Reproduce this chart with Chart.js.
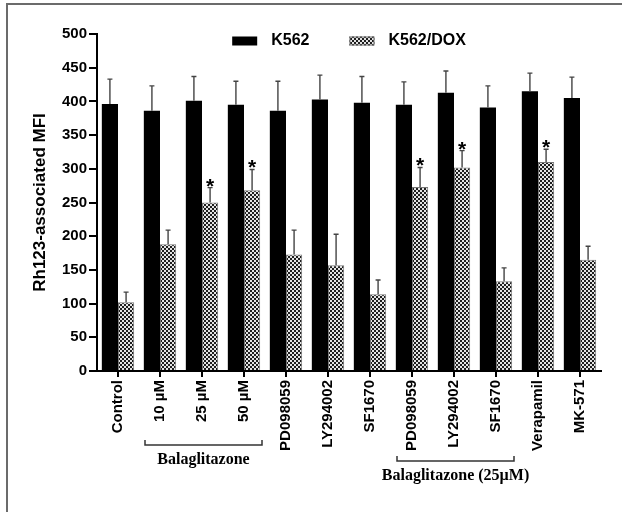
<!DOCTYPE html>
<html>
<head>
<meta charset="utf-8">
<script src="https://cdn.jsdelivr.net/npm/chart.js@4.4.0/dist/chart.umd.min.js"></script>
<style>
body { margin: 0; background: #fff; }
#frame { position: absolute; left: 6px; top: 3px; width: 700px; height: 600px; border-left: 2px solid #6b6b6b; border-top: 2px solid #6b6b6b; }
#c { position: absolute; left: 0; top: 0; }
</style>
</head>
<body>
<div id="frame"></div>
<canvas id="c" width="622" height="512"></canvas>
<script>
// data
const categories = ['Control', '10 µM', '25 µM', '50 µM', 'PD098059', 'LY294002', 'SF1670', 'PD098059', 'LY294002', 'SF1670', 'Verapamil', 'MK-571']
const k562 = [396, 386, 401, 395, 386, 403, 398, 395, 413, 391, 415, 405]
const k562Err = [433, 423, 437, 430, 430, 439, 437, 429, 445, 423, 442, 436]
const dox = [102, 188, 250, 268, 173, 157, 114, 273, 302, 133, 310, 165]
const doxErr = [117, 209, 272, 299, 209, 203, 135, 302, 327, 153, 329, 185]
const doxStars = [2, 3, 7, 8, 10]
const groupNames = ['Balaglitazone', 'Balaglitazone (25µM)']
const groupFrom = [1, 7]
const groupTo = [3, 9]
const seriesNames = ['K562', 'K562/DOX']
const yMax = 500
const yStep = 50

Chart.defaults.font.family = "'Liberation Sans', Arial, sans-serif"
Chart.defaults.color = '#000'

// checker fill for the DOX bars
function makePattern() {
	const t = document.createElement('canvas')
	t.width = 4
	t.height = 4
	const c = t.getContext('2d')
	c.fillStyle = '#e4e4e4'
	c.fillRect(0, 0, 4, 4)
	c.fillStyle = '#1e1e1e'
	c.fillRect(0, 0, 2, 2)
	c.fillRect(2, 2, 2, 2)
	return document.getElementById('c').getContext('2d').createPattern(t, 'repeat')
}
const checker = makePattern()

const extras = {
	id: 'extras',
	afterDatasetsDraw(chart) {
		const ctx = chart.ctx
		const y = chart.scales.y
		const errs = [k562Err, doxErr]
		ctx.save()
		// error bars (upper only)
		ctx.strokeStyle = '#444'
		ctx.lineWidth = 1.4
		errs.forEach((err, d) => {
			chart.getDatasetMeta(d).data.forEach((bar, i) => {
				const top = y.getPixelForValue(err[i])
				ctx.beginPath()
				ctx.moveTo(bar.x, bar.y)
				ctx.lineTo(bar.x, top)
				ctx.moveTo(bar.x - 2.5, top)
				ctx.lineTo(bar.x + 2.5, top)
				ctx.stroke()
			})
		})
		// significance stars
		ctx.fillStyle = '#000'
		ctx.font = "bold 21px 'Liberation Sans', Arial, sans-serif"
		ctx.textAlign = 'center'
		ctx.textBaseline = 'alphabetic'
		const doxMeta = chart.getDatasetMeta(1)
		doxStars.forEach(i => {
			const bar = doxMeta.data[i]
			ctx.fillText('*', bar.x, y.getPixelForValue(doxErr[i]) + 5)
		})
		ctx.restore()
	},
	afterDraw(chart) {
		const ctx = chart.ctx
		const x = chart.scales.x
		const area = chart.chartArea
		ctx.save()
		// legend
		ctx.font = "bold 16px 'Liberation Sans', Arial, sans-serif"
		ctx.textBaseline = 'middle'
		ctx.textAlign = 'left'
		const widths = seriesNames.map(s => 25 + 14 + ctx.measureText(s).width)
		let lx = (area.left + area.right) / 2 - (widths[0] + widths[1] + 40) / 2
		const ly = 41
		chart.data.datasets.forEach((ds, i) => {
			ctx.fillStyle = ds.backgroundColor
			ctx.fillRect(lx, ly - 4.5, 25, 9)
			if (ds.borderWidth) {
				ctx.strokeStyle = ds.borderColor
				ctx.lineWidth = 1
				ctx.strokeRect(lx + 0.5, ly - 4, 24, 8)
			}
			ctx.fillStyle = '#000'
			ctx.fillText(ds.label, lx + 39, ly)
			lx += widths[i] + 40
		})
		// group brackets under the axis
		const rows = [445, 461]
		ctx.strokeStyle = '#333'
		ctx.lineWidth = 1.5
		ctx.font = "bold 16px 'Liberation Serif', 'Times New Roman', serif"
		ctx.textAlign = 'center'
		groupNames.forEach((name, g) => {
			const x0 = x.getPixelForValue(groupFrom[g]) - 15
			const x1 = x.getPixelForValue(groupTo[g]) + 18
			const by = rows[g]
			ctx.beginPath()
			ctx.moveTo(x0, by - 5)
			ctx.lineTo(x0, by)
			ctx.lineTo(x1, by)
			ctx.lineTo(x1, by - 5)
			ctx.stroke()
			ctx.fillStyle = '#000'
			ctx.fillText(name, (x0 + x1) / 2, by + 15)
		})
		ctx.restore()
	}
}

new Chart(document.getElementById('c'), {
	type: 'bar',
	data: {
		labels: categories,
		datasets: [
			{
				label: seriesNames[0],
				data: k562,
				backgroundColor: '#000',
				borderWidth: 0
			},
			{
				label: seriesNames[1],
				data: dox,
				backgroundColor: checker,
				borderColor: '#777',
				borderWidth: 1
			}
		]
	},
	options: {
		responsive: false,
		animation: false,
		layout: { padding: { left: 0, right: 21, top: 34, bottom: 0 } },
		datasets: { bar: { categoryPercentage: 0.77, barPercentage: 1 } },
		plugins: { legend: { display: false }, tooltip: { enabled: false } },
		scales: {
			x: {
				afterFit: s => { s.height = 141 },
				border: { color: '#000', width: 2 },
				grid: { offset: false, drawOnChartArea: false, color: '#000', lineWidth: 2, tickLength: 6 },
				ticks: {
					autoSkip: false,
					minRotation: 90,
					maxRotation: 90,
					padding: 3,
					font: { size: 15, weight: 'bold' }
				}
			},
			y: {
				min: 0,
				max: yMax,
				afterFit: s => { s.width = 97 },
				border: { color: '#000', width: 2 },
				grid: { drawOnChartArea: false, color: '#000', lineWidth: 2, tickLength: 8 },
				ticks: { stepSize: yStep, padding: 2, font: { size: 15, weight: 'bold' } },
				title: {
					display: true,
					text: 'Rh123-associated MFI',
					font: { size: 17, weight: 'bold' },
					padding: { top: 30, bottom: 0 }
				}
			}
		}
	},
	plugins: [extras]
})
</script>
</body>
</html>
